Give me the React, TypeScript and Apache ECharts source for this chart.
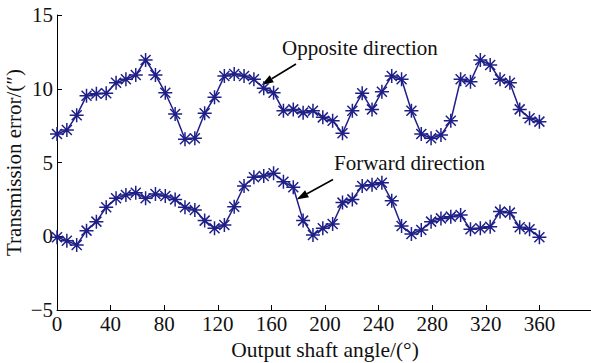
import React, { useEffect, useRef } from "react";
import * as echarts from "echarts";

const angles = [
  0, 7.35, 14.69, 22.04, 29.39, 36.73, 44.08, 51.43, 58.78, 66.12,
  73.47, 80.82, 88.16, 95.51, 102.86, 110.2, 117.55, 124.9, 132.24, 139.59,
  146.94, 154.29, 161.63, 168.98, 176.33, 183.67, 191.02, 198.37, 205.71, 213.06,
  220.41, 227.76, 235.1, 242.45, 249.8, 257.14, 264.49, 271.84, 279.18, 286.53,
  293.88, 301.22, 308.57, 315.92, 323.27, 330.61, 337.96, 345.31, 352.65, 360,
];

const opposite = [
  6.93, 7.2, 8.2, 9.52, 9.66, 9.69, 10.41, 10.64, 10.93, 11.95,
  10.93, 9.73, 8.29, 6.57, 6.64, 8.34, 9.42, 10.86, 11.0, 10.86,
  10.64, 10.03, 9.73, 8.51, 8.6, 8.38, 8.51, 8.06, 7.83, 6.98,
  8.51, 9.69, 8.6, 9.8, 10.86, 10.64, 8.51, 6.93, 6.64, 6.86,
  7.83, 10.64, 10.48, 11.95, 11.61, 10.64, 10.41, 8.6, 8.0, 7.77,
];

const forward = [
  -0.07, -0.3, -0.59, 0.38, 0.99, 1.96, 2.57, 2.8, 2.95, 2.57,
  2.86, 2.73, 2.5, 1.96, 1.78, 1.06, 0.54, 0.76, 2.0, 3.41,
  4.0, 4.08, 4.27, 3.7, 3.32, 1.06, 0.08, 0.54, 0.83, 2.28,
  2.5, 3.41, 3.5, 3.63, 2.41, 0.69, 0.15, 0.42, 0.99, 1.21,
  1.33, 1.44, 0.47, 0.54, 0.65, 1.67, 1.6, 0.61, 0.47, -0.07,
];

const xTicks = [0, 40, 80, 120, 160, 200, 240, 280, 320, 360];
const yTicks = [-5, 0, 5, 10, 15];

const FONT = "'Liberation Serif', 'Times New Roman', serif";
const NAVY = "#1f1f88";
const STAR = "path://M7,0L7,14M0,7L14,7M2,2L12,12M2,12L12,2";

function arrow(tail: number[], tip: number[]) {
  const dx = tip[0] - tail[0];
  const dy = tip[1] - tail[1];
  const len = Math.sqrt(dx * dx + dy * dy);
  const ux = dx / len;
  const uy = dy / len;
  const hl = 12;
  const hw = 4;
  const bx = tip[0] - hl * ux;
  const by = tip[1] - hl * uy;
  return [
    {
      type: "line",
      shape: { x1: tail[0], y1: tail[1], x2: bx, y2: by },
      style: { stroke: "#000", lineWidth: 1.5 },
    },
    {
      type: "polygon",
      shape: {
        points: [
          [tip[0], tip[1]],
          [bx - hw * uy, by + hw * ux],
          [bx + hw * uy, by - hw * ux],
        ],
      },
      style: { fill: "#000" },
    },
  ];
}

export default function App() {
  const ref = useRef<HTMLDivElement>(null);
  useEffect(() => {
    if (!ref.current) return;
    const chart = echarts.init(ref.current, null, { renderer: "svg" });
    const mk = (vals: number[]) => vals.map((v, i) => [angles[i], v]);
    chart.setOption({
      animation: false,
      backgroundColor: "#fff",
      grid: {
        left: 57,
        right: -2,
        top: 15,
        bottom: 53,
        containLabel: false,
        outerBoundsMode: "none",
      },
      xAxis: {
        type: "value",
        min: 0,
        max: 400,
        interval: 40,
        name: "Output shaft angle/(°)",
        nameLocation: "middle",
        nameGap: 29,
        nameMoveOverlap: false,
        nameTextStyle: { fontFamily: FONT, fontSize: 21.5, color: "#111" },
        axisLine: { onZero: false, lineStyle: { color: "#000", width: 1 } },
        axisTick: { inside: true, length: 5, lineStyle: { color: "#000" } },
        axisLabel: {
          fontFamily: FONT,
          fontSize: 21,
          color: "#111",
          margin: 3,
          formatter: (v: number) => (xTicks.includes(v) ? String(v) : ""),
        },
        splitLine: { show: false },
      },
      yAxis: {
        type: "value",
        min: -5,
        max: 15,
        interval: 5,
        name: "Transmission error/(″)",
        nameLocation: "middle",
        nameGap: 33,
        nameMoveOverlap: false,
        nameTextStyle: { fontFamily: FONT, fontSize: 21, color: "#111" },
        axisLine: { show: true, lineStyle: { color: "#000", width: 1 } },
        axisTick: { show: true, inside: true, length: 5, lineStyle: { color: "#000" } },
        axisLabel: {
          fontFamily: FONT,
          fontSize: 21,
          color: "#111",
          margin: 4,
          formatter: (v: number) =>
            yTicks.includes(v) ? (v < 0 ? "\u2212" + Math.abs(v) : String(v)) : "",
        },
        splitLine: { show: false },
      },
      series: [
        {
          name: "Opposite direction",
          type: "line",
          data: mk(opposite),
          symbol: STAR,
          symbolSize: 14,
          lineStyle: { color: NAVY, width: 1.5 },
          itemStyle: { color: NAVY, borderColor: NAVY, borderWidth: 1.5 },
        },
        {
          name: "Forward direction",
          type: "line",
          data: mk(forward),
          symbol: STAR,
          symbolSize: 14,
          lineStyle: { color: NAVY, width: 1.5 },
          itemStyle: { color: NAVY, borderColor: NAVY, borderWidth: 1.5 },
        },
      ],
      graphic: [
        {
          type: "text",
          left: 282,
          top: 37,
          style: {
            text: "Opposite direction",
            font: `21px ${FONT}`,
            fill: "#111",
          },
        },
        {
          type: "text",
          left: 334,
          top: 152,
          style: {
            text: "Forward direction",
            font: `21px ${FONT}`,
            fill: "#111",
          },
        },
        ...arrow([296, 64], [261.5, 85]),
        ...arrow([333, 179.5], [296.5, 199.5]),
      ],
    });
    return () => chart.dispose();
  }, []);
  return (
    <div
      ref={ref}
      style={{ position: "fixed", left: 0, top: 0, width: 591, height: 363 }}
    />
  );
}
